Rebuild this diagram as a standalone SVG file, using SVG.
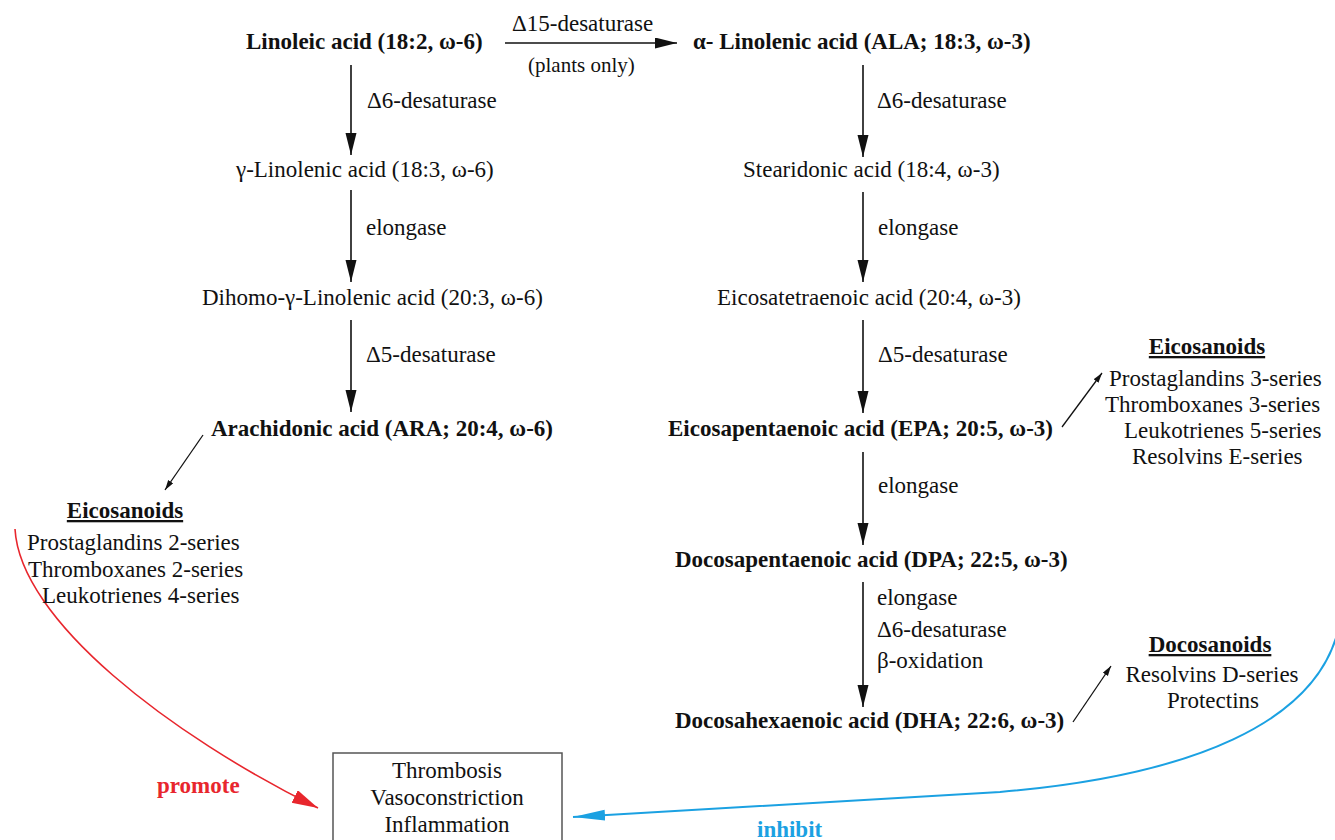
<svg xmlns="http://www.w3.org/2000/svg" width="1335" height="840" viewBox="0 0 1335 840" font-family="Liberation Serif, DejaVu Serif, serif">
<defs>
<style>
text{font-family:'Liberation Serif','DejaVu Serif',serif;font-size:23px;fill:#111}
.b{font-weight:bold}
.u{font-weight:bold;text-decoration:underline}
.c{text-anchor:middle}
.ln{stroke:#111;stroke-width:1.6;fill:none}
.thin{stroke:#111;stroke-width:1.3;fill:none}
</style>
<marker id="ah" markerUnits="userSpaceOnUse" markerWidth="24" markerHeight="12" refX="22" refY="5.5" orient="auto"><path d="M0,0 L22,5.5 L0,11 Z" fill="#111"/></marker>
<marker id="as" markerUnits="userSpaceOnUse" markerWidth="12" markerHeight="8" refX="10" refY="3" orient="auto"><path d="M0,0 L10,3 L0,6 Z" fill="#111"/></marker>
<marker id="ar" markerUnits="userSpaceOnUse" markerWidth="28" markerHeight="16" refX="26" refY="7" orient="auto"><path d="M0,0 L26,7 L0,14 Z" fill="#e8262d"/></marker>
<marker id="ab" markerUnits="userSpaceOnUse" markerWidth="34" markerHeight="13" refX="32" refY="5.5" orient="auto"><path d="M0,0 L32,5.5 L0,11 Z" fill="#1ba1e2"/></marker>
</defs>
<rect width="1335" height="840" fill="#fff"/>

<g id="connectors">
<line class="ln" x1="505" y1="43" x2="677" y2="43" marker-end="url(#ah)"/>
<line class="ln" x1="351" y1="65" x2="351" y2="155" marker-end="url(#ah)"/>
<line class="ln" x1="351" y1="190" x2="351" y2="282" marker-end="url(#ah)"/>
<line class="ln" x1="351" y1="320" x2="351" y2="412" marker-end="url(#ah)"/>
<line class="ln" x1="863" y1="65" x2="863" y2="157" marker-end="url(#ah)"/>
<line class="ln" x1="863" y1="192" x2="863" y2="282" marker-end="url(#ah)"/>
<line class="ln" x1="863" y1="320" x2="863" y2="413" marker-end="url(#ah)"/>
<line class="ln" x1="863" y1="452" x2="863" y2="545" marker-end="url(#ah)"/>
<line class="ln" x1="863" y1="582" x2="863" y2="707" marker-end="url(#ah)"/>
<line class="thin" x1="203" y1="435" x2="165" y2="490" marker-end="url(#as)"/>
<line class="thin" x1="1062" y1="427" x2="1102" y2="373" marker-end="url(#as)"/>
<line class="thin" x1="1073" y1="722" x2="1111" y2="666" marker-end="url(#as)"/>
<path d="M15,529 C20,620 170,735 318,808" stroke="#e8262d" stroke-width="1.6" fill="none" marker-end="url(#ar)"/>
<path d="M1336,638 C1310,720 1200,775 1000,792 L573,817" stroke="#1ba1e2" stroke-width="2" fill="none" marker-end="url(#ab)"/>
</g>

<g id="labels">
<text x="512" y="31">Δ15-desaturase</text>
<text x="528" y="72" style="font-size:21px">(plants only)</text>
<text x="367" y="108">Δ6-desaturase</text>
<text x="366" y="235">elongase</text>
<text x="366" y="362">Δ5-desaturase</text>
<text x="877" y="108">Δ6-desaturase</text>
<text x="878" y="235">elongase</text>
<text x="878" y="362">Δ5-desaturase</text>
<text x="878" y="493">elongase</text>
<text x="877" y="605">elongase</text>
<text x="877" y="637">Δ6-desaturase</text>
<text x="877" y="668">β-oxidation</text>
<text x="157" y="793" class="b" style="fill:#e8262d">promote</text>
<text x="757" y="837" class="b" style="fill:#1ba1e2">inhibit</text>
</g>

<g id="linoleic"><text x="246" y="49" class="b">Linoleic acid (18:2, ω-6)</text></g>
<g id="ala"><text x="693" y="49" class="b">α- Linolenic acid (ALA; 18:3, ω-3)</text></g>
<g id="gla"><text x="236" y="177">γ-Linolenic acid (18:3, ω-6)</text></g>
<g id="sda"><text x="743" y="177">Stearidonic acid (18:4, ω-3)</text></g>
<g id="dgla"><text x="202" y="305">Dihomo-γ-Linolenic acid (20:3, ω-6)</text></g>
<g id="eta"><text x="717" y="305">Eicosatetraenoic acid (20:4, ω-3)</text></g>
<g id="ara"><text x="211" y="436" class="b">Arachidonic acid (ARA; 20:4, ω-6)</text></g>
<g id="epa"><text x="668" y="436" class="b">Eicosapentaenoic acid (EPA; 20:5, ω-3)</text></g>
<g id="dpa"><text x="675" y="567" class="b">Docosapentaenoic acid (DPA; 22:5, ω-3)</text></g>
<g id="dha"><text x="675" y="728" class="b">Docosahexaenoic acid (DHA; 22:6, ω-3)</text></g>

<g id="eicosanoids-left">
<text x="125" y="518" class="u c">Eicosanoids</text>
<text x="27" y="550">Prostaglandins 2-series</text>
<text x="28" y="577">Thromboxanes 2-series</text>
<text x="42" y="603">Leukotrienes 4-series</text>
</g>

<g id="eicosanoids-right">
<text x="1207" y="354" class="u c">Eicosanoids</text>
<text x="1109" y="386">Prostaglandins 3-series</text>
<text x="1105" y="412">Thromboxanes 3-series</text>
<text x="1124" y="438">Leukotrienes 5-series</text>
<text x="1132" y="464">Resolvins E-series</text>
</g>

<g id="docosanoids">
<text x="1210" y="652" class="u c">Docosanoids</text>
<text x="1212" y="682" class="c">Resolvins D-series</text>
<text x="1213" y="708" class="c">Protectins</text>
</g>

<g id="effects">
<rect x="333" y="753" width="229" height="100" fill="#fff" stroke="#555" stroke-width="1.5"/>
<text x="447" y="778" class="c">Thrombosis</text>
<text x="447" y="805" class="c">Vasoconstriction</text>
<text x="447" y="832" class="c">Inflammation</text>
</g>
</svg>
